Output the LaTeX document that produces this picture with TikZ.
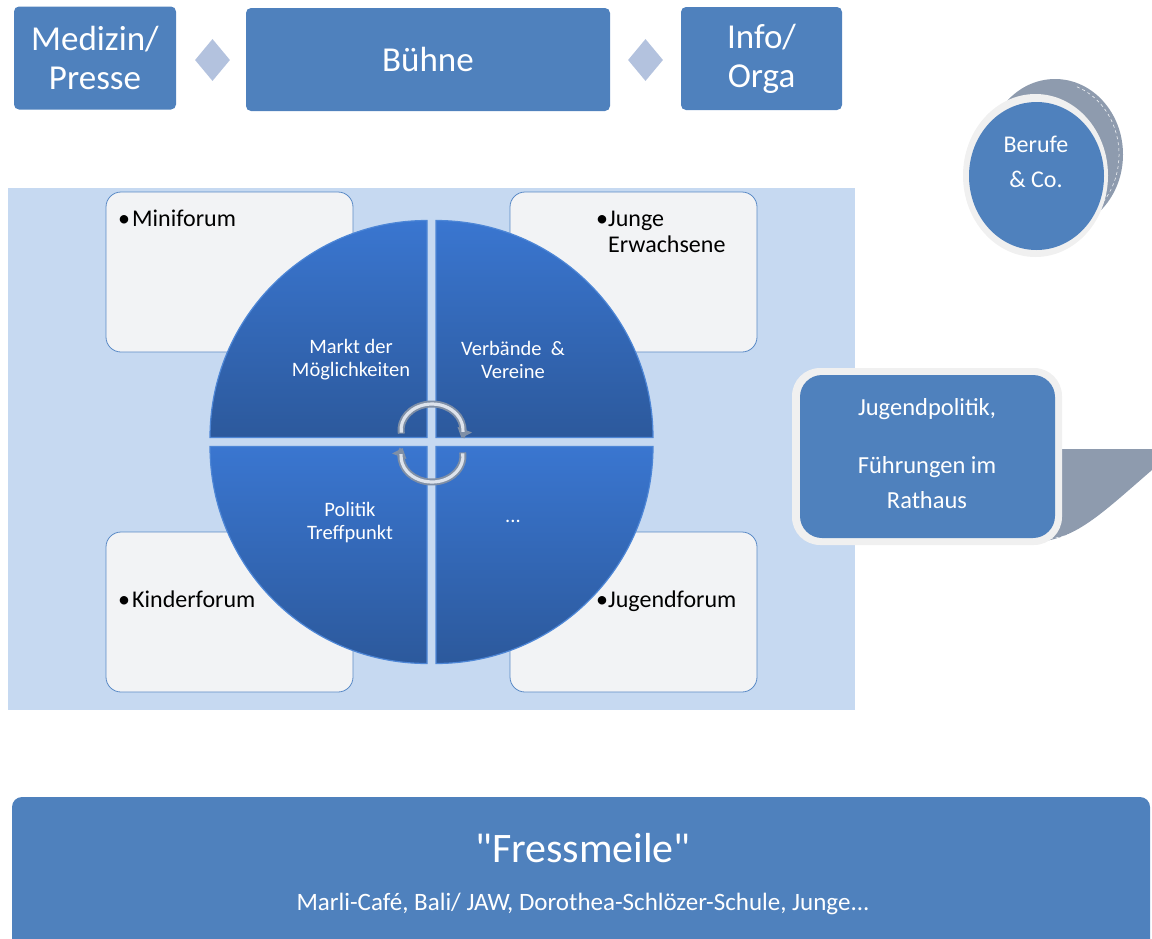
\documentclass[tikz,border=0pt]{standalone}
\usepackage{fontspec}
\setmainfont{Carlito}
\newfontfamily\plainquotefont{Carlito}[Ligatures=TeXOff]
\usetikzlibrary{shapes.geometric,arrows.meta}
\definecolor{accent}{HTML}{4F81BD}
\definecolor{diam}{HTML}{B3C2DE}
\definecolor{bgblue}{HTML}{C6D9F1}
\definecolor{boxfill}{HTML}{F2F3F5}
\definecolor{boxline}{HTML}{5A8AC6}
\definecolor{qtop}{HTML}{3A76D0}
\definecolor{qbot}{HTML}{2C599C}
\definecolor{qedge}{HTML}{4D86D6}
\definecolor{shadowgray}{HTML}{8E9BAE}
\definecolor{ringgray}{HTML}{F0F0F0}
\definecolor{arrowdark}{HTML}{7F8FA6}
\definecolor{arrowlight}{HTML}{DDE3EC}
\tikzset{
  topbox/.style={fill=accent, rounded corners=5pt, text=white, align=center, inner sep=0pt,
    font=\fontsize{35}{39}\selectfont},
  diamondnode/.style={diamond, fill=diam, minimum width=35pt, minimum height=42pt, inner sep=0pt},
  forumbox/.style={fill=boxfill, draw=boxline, line width=0.8pt, rounded corners=15pt},
  forumtext/.style={font=\fontsize{24}{26}\selectfont, text=black, align=left, inner sep=0pt},
  quadrant/.style={top color=qtop, bottom color=qbot, draw=qedge, line width=1.2pt},
  quadtext/.style={text=white, align=center, font=\fontsize{20.5}{23}\selectfont, inner sep=0pt},
  cyclearrow/.style={line width=7pt, draw=arrowdark},
  cyclelight/.style={line width=3.2pt, draw=arrowlight},
  whitetext/.style={text=white, align=center, inner sep=0pt}
}
\begin{document}
\begin{tikzpicture}[x=1pt,y=-1pt]
\useasboundingbox (0,0) rectangle (1152,938);

% --- top row
\node[topbox, minimum width=162pt, minimum height=103pt] (med) at (95,58) {Medizin/\\Presse};
\node[topbox, minimum width=364pt, minimum height=103pt] (buehne) at (428,59.5) {Bühne};
\node[topbox, minimum width=161pt, minimum height=103pt] (info) at (761.5,58.5) {Info/\\Orga};
\node[diamondnode] (d1) at (212.5,60) {};
\node[diamondnode] (d2) at (645.5,60) {};

% --- background
\fill[bgblue] (8,188) rectangle (855,710);

% --- forum boxes
\draw[forumbox] (106,192) rectangle (353,352);
\draw[forumbox] (510,192) rectangle (757,352);
\draw[forumbox] (106,532) rectangle (353,692);
\draw[forumbox] (510,532) rectangle (757,692);
\node[forumtext, anchor=base west] (mini) at (118,226) {\makebox[14pt][l]{•}Miniforum};
\node[forumtext, anchor=base west] (junge) at (596,252) {\makebox[12pt][l]{•}Junge\\\hspace*{12pt}Erwachsene};
\node[forumtext, anchor=base west] (kinder) at (118,607) {\makebox[14pt][l]{•}Kinderforum};
\node[forumtext, anchor=base west] (jugend) at (596,607) {\makebox[12pt][l]{•}Jugendforum};

% --- circle quadrants
\path[quadrant] (427,437.5) -- (210,437.5) arc[start angle=180,end angle=270,radius=217] -- cycle;
\path[quadrant] (436,437.5) -- (436,220.5) arc[start angle=270,end angle=360,radius=217] -- cycle;
\path[quadrant] (427,446.5) -- (210,446.5) arc[start angle=180,end angle=90,radius=217] -- cycle;
\path[quadrant] (436,446.5) -- (653,446.5) arc[start angle=0,end angle=90,radius=217] -- cycle;

\node[quadtext] (markt) at (351,360) {Markt der\\Möglichkeiten};
\node[quadtext] (verb) at (513,360) {Verbände~~\&\\Vereine};
\node[quadtext] (pol) at (350,523) {Politik\\Treffpunkt};
\node[quadtext] (dots) at (513,521) {...};

% --- cycle arrows
\coordinate (ca) at (432,430);
\coordinate (cb) at (432,456);
\draw[cyclearrow, -{Triangle[length=9pt,width=15pt]}] (ca) ++(172:31 and 26) arc[start angle=172,end angle=378,x radius=31,y radius=26];
\draw[cyclelight] (ca) ++(174:31 and 26) arc[start angle=174,end angle=364,x radius=31,y radius=26];
\draw[cyclearrow, -{Triangle[length=9pt,width=15pt]}] (cb) ++(-8:31 and 26) arc[start angle=-8,end angle=198,x radius=31,y radius=26];
\draw[cyclelight] (cb) ++(-6:31 and 26) arc[start angle=-6,end angle=184,x radius=31,y radius=26];

% --- Berufe & Co.
\fill[shadowgray] (1055,154.5) ellipse[x radius=68, y radius=75.5];
\draw[white, line width=0.5pt, dashed] (1055,154.5) ++(-70:64 and 72) arc[start angle=-70,end angle=70,x radius=64,y radius=72];
\fill[ringgray] (1035.5,175.5) ellipse[x radius=72.5, y radius=81.5];
\node[ellipse, fill=accent, minimum width=135pt, minimum height=148pt, inner sep=0pt] (berufe) at (1036.5,176) {};
\node[whitetext, font=\fontsize{24}{35}\selectfont] (berufetext) at (1036,162) {Berufe\\\& Co.};

% --- Jugendpolitik callout
\fill[shadowgray] (1030,449) -- (1152,449) -- (1152,470) .. controls (1100,515) and (1075,540) .. (1035,542) -- cycle;
\draw[white, line width=0.5pt, dashed] (1152,474) .. controls (1102,517) and (1078,538) .. (1045,539);
\fill[ringgray, rounded corners=28pt] (792,368) rectangle (1062,545);
\node[fill=accent, rounded corners=22pt, minimum width=255pt, minimum height=163pt, inner sep=0pt] (jp) at (927.5,456.5) {};
\node[whitetext, font=\fontsize{24.5}{28}\selectfont] (jp1) at (927,409) {Jugendpolitik,};
\node[whitetext, font=\fontsize{24.5}{35}\selectfont] (jp2) at (927,483) {Führungen im\\Rathaus};

% --- Fressmeile
\fill[accent, rounded corners=10pt] (12,960) -- (12,797) -- (1150,797) -- (1150,960) -- cycle;
\node[whitetext, font=\fontsize{42}{46}\plainquotefont] (fress) at (583,848) {"Fressmeile"};
\node[whitetext, font=\fontsize{25}{28}\selectfont] (fresssub) at (583,904) {Marli-Café, Bali/ JAW, Dorothea-Schlözer-Schule, Junge...};
\end{tikzpicture}
\end{document}
